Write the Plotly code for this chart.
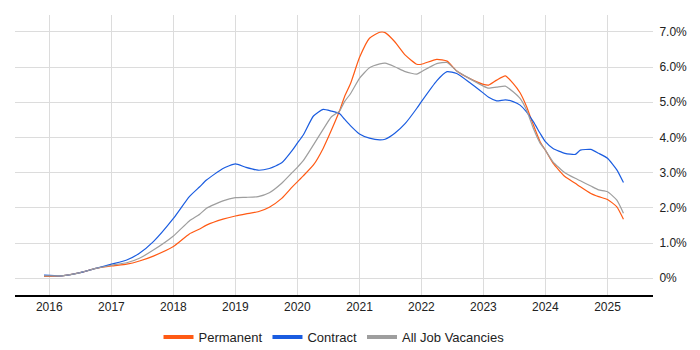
import plotly.graph_objects as go

dates = ["2015-12-01","2016-03-15","2016-07-01","2016-10-01","2017-01-01","2017-04-01","2017-06-15","2017-09-05",
         "2018-01-01","2018-04-05","2018-06-05","2018-07-15","2018-10-20","2019-01-01","2019-03-05","2019-05-15",
         "2019-07-20","2019-10-01","2019-12-01","2020-01-01","2020-02-05","2020-04-05","2020-06-01","2020-07-20",
         "2020-09-05","2020-10-05","2020-11-10","2021-01-01","2021-03-01","2021-05-01","2021-06-01","2021-07-28",
         "2021-09-28","2021-12-05","2022-01-01","2022-04-01","2022-06-01","2022-07-28","2022-10-10","2023-01-01",
         "2023-02-01","2023-03-20","2023-05-10","2023-06-25","2023-08-05","2023-09-12","2023-10-22","2023-12-01",
         "2024-01-01","2024-02-15","2024-04-25","2024-06-25","2024-07-25","2024-09-25","2024-11-10","2025-01-01",
         "2025-02-25","2025-04-05"]

permanent = [0.05,0.07,0.16,0.28,0.35,0.40,0.49,0.63,0.90,1.26,1.40,1.51,1.68,1.77,1.83,1.89,
             2.02,2.27,2.59,2.74,2.91,3.22,3.69,4.21,4.75,5.16,5.54,6.27,6.82,6.99,6.98,6.72,
             6.34,6.08,6.08,6.22,6.17,5.89,5.68,5.51,5.49,5.63,5.75,5.54,5.27,4.88,4.36,3.88,
             3.64,3.27,2.89,2.70,2.60,2.41,2.32,2.24,2.03,1.68]

contract = [0.09,0.07,0.16,0.28,0.40,0.52,0.71,1.04,1.70,2.32,2.60,2.79,3.12,3.25,3.15,3.07,
            3.12,3.28,3.63,3.84,4.07,4.61,4.80,4.75,4.68,4.52,4.33,4.10,3.98,3.93,3.95,4.12,
            4.40,4.83,5.02,5.61,5.87,5.82,5.57,5.26,5.14,5.04,5.07,5.02,4.92,4.73,4.45,4.12,
            3.88,3.69,3.55,3.52,3.64,3.66,3.55,3.41,3.08,2.72]

all_jobs = [0.07,0.07,0.16,0.28,0.37,0.44,0.57,0.80,1.20,1.63,1.82,1.99,2.20,2.29,2.30,2.32,
            2.43,2.70,3.00,3.15,3.34,3.79,4.23,4.59,4.75,5.02,5.25,5.68,5.98,6.09,6.11,6.01,
            5.87,5.80,5.87,6.10,6.13,5.89,5.68,5.46,5.40,5.43,5.46,5.30,5.11,4.78,4.26,3.84,
            3.64,3.31,3.00,2.84,2.77,2.62,2.51,2.46,2.22,1.85]

series_names = ["Permanent", "Contract", "All Job Vacancies"]
series_colors = ["#ff5a14", "#1a5ce0", "#9e9e9e"]

y_ticks = [0, 1, 2, 3, 4, 5, 6, 7]
y_tick_labels = ["0%", "1.0%", "2.0%", "3.0%", "4.0%", "5.0%", "6.0%", "7.0%"]
x_ticks = [f"{y}-01-01" for y in range(2016, 2026)]
x_tick_labels = [str(y) for y in range(2016, 2026)]

fig = go.Figure()
for name, vals, col in zip(series_names, [permanent, contract, all_jobs], series_colors):
    fig.add_trace(go.Scatter(x=dates, y=vals, name=name, mode="lines", showlegend=False,
                             line=dict(color=col, width=1.2, shape="spline", smoothing=0.5)))
for name, col in zip(series_names, series_colors):
    fig.add_trace(go.Scatter(x=[None], y=[None], name=name, mode="lines", showlegend=True,
                             line=dict(color=col, width=4)))

# the page body has an 8px margin, so the figure is drawn 8px in from the top-left corner
fig.update_layout(
    width=692, height=342,
    margin=dict(l=7, r=47, t=7, b=55, autoexpand=False),
    paper_bgcolor="white", plot_bgcolor="white",
    font=dict(family="Liberation Sans, Arial, sans-serif", size=12, color="#222"),
    showlegend=True,
    legend=dict(orientation="h", x=0.5, xanchor="center", y=-0.097, yanchor="top",
                font=dict(size=13, color="#222"), itemwidth=30, tracegroupgap=0,
                bgcolor="rgba(0,0,0,0)"),
    xaxis=dict(range=["2015-06-13", "2025-09-26"], tickvals=x_ticks, ticktext=x_tick_labels,
               showgrid=True, gridcolor="#dcdcdc", gridwidth=1, automargin=False,
               showline=True, linecolor="#000", linewidth=1.5, ticks="", zeroline=False,
               tickfont=dict(size=12)),
    yaxis=dict(range=[-0.475, 7.48], side="right", tickvals=y_ticks, ticktext=y_tick_labels,
               showgrid=True, gridcolor="#dcdcdc", gridwidth=1, zeroline=False, automargin=False,
               showline=False, ticks="outside", ticklen=3, tickcolor="rgba(0,0,0,0)",
               tickfont=dict(size=12)),
)

fig.write_html("out.html")
